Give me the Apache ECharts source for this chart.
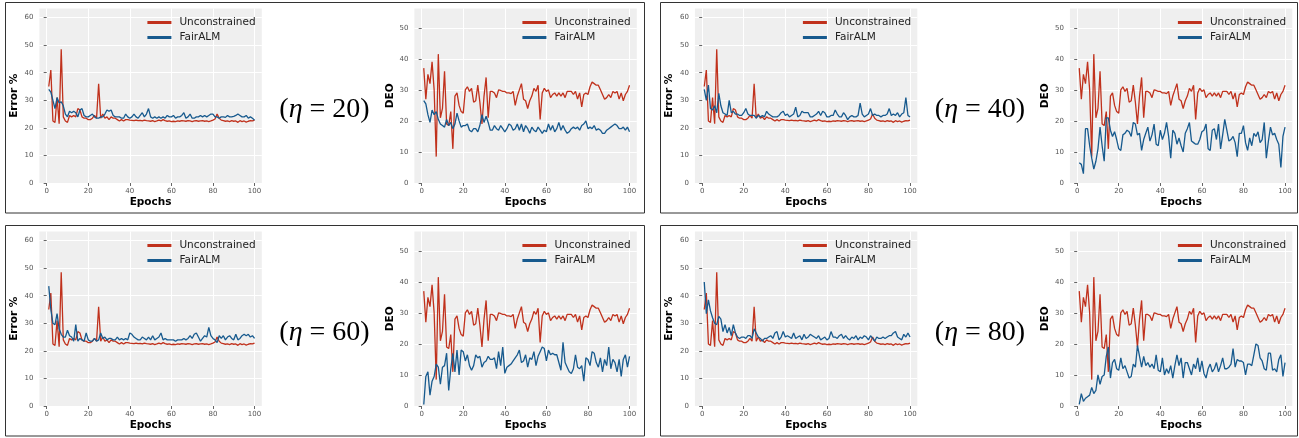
<!DOCTYPE html>
<html>
<head>
<meta charset="utf-8">
<script src="https://cdn.jsdelivr.net/npm/echarts@6/dist/echarts.min.js"></script>
<style>
html,body{margin:0;padding:0;background:#fff;}
#main{width:1299px;height:438px;}
</style>
</head>
<body>
<div id="main"></div>
<script>
// epochs 1..100
var epochs = [];
for (var i = 1; i <= 100; i++) epochs.push(i);

var epochTicks = [0, 20, 40, 60, 80, 100];
var errTicks = [0, 10, 20, 30, 40, 50, 60];
var deoTicks = [0, 10, 20, 30, 40, 50];
var etas = [20, 40, 60, 80];

// Unconstrained (same run in every panel)
var unErr = [35,41,22.5,22,31,21.5,48.5,24,22.5,22, 24.5,24,24.5,24,27,26.5,24,23.5,23.5,23,
  23,23.5,24.5,23.5,36,23.5,25,23.5,24,23, 24,23.5,23.5,23,22.5,23,22.5,23,23,22.8,
  22.7,22.6,22.8,22.6,22.7,22.5,22.8,22.6,22.5,22.4, 22.6,22.3,22.5,22.8,22.5,23,22.6,22.4,22.5,22.3,
  22.4,22.3,22.5,22.4,22.6,22.5,22.4,22.6,22.5,22.3, 22.5,22.6,22.4,22.5,22.6,22.4,22.5,22.3,22.5,22.8,
  23.2,25,23.5,22.8,22.6,22.4,22.5,22.3,22.6,22.4, 22.5,22,22.6,22.3,22.5,22.1,22.4,22.6,22.5,22.8];
var unDeo = [37,27,35,32,39,30,8.5,41.5,21,24, 36,19,18.5,23,11,28,29,25,23,22.5,
  30,31,29.5,30.5,26,26.5,31.5,26,19,28, 34,21,29.5,29.5,29,27.5,30,29.8,29.5,29.5,
  29,29,28.8,29.5,25,28,30,32,27,26.5, 24,26.5,28,30.5,29.5,31.5,20.5,29,30.5,29.5,
  30,27.5,28.5,29,28,29,28,29,27.5,29.5, 29.5,29.5,28.5,29.5,27,29,24.5,28.5,29,28.5,
  31,32.5,32,31.5,31.5,30,28.5,27,27.5,28.5, 27.5,29.5,29,29.5,27,29,26.5,28.5,29.5,31.5];

// FairALM, eta = 20
var fa20Err = [34,33,30,27,31,29,29.5,28,25,24, 26,25.5,26,25.5,24,26.5,27,24.5,24,24,
  24.5,25,24,23.5,23.5,24,24,25,26.5,26, 26.5,24.5,24,24,24,23.5,23.5,25,24,23.5,
  24,25,24,23.5,24.5,25.5,24,25,27,24, 23.5,24,23.5,24,23.5,24,23.5,24.5,24,24,
  24.5,23.5,24,24,24.5,25.5,23.5,24,25,23.5, 23.5,24,24,24.5,24,24.5,24,24.5,25,25,
  24,24,23.5,24,24,23.8,24.5,24,24,24.2, 24.5,25,24.5,24,24,24.5,23.5,24,23.5,22.8];
var fa20Deo = [26.5,25.5,22,19.5,23.5,22,23,20.5,19,18.5, 18,20.5,18.5,19.5,17.5,19,22.5,20,18,18.5,
  18.5,19,17,16.5,17.5,17.5,16.5,18.5,22,19.5, 21.5,19.5,17,17,18.5,17.5,17,18.5,17.5,16.5,
  17.5,19,18.5,17,17.5,19,17,19,16.5,18.5, 17.5,16,18,17,16.5,18,17,16,17,16.5,
  19,17,18.5,16.5,17.5,19.5,17,18.5,17,16, 16.5,17.5,18,17.5,18,17,18.5,19,20,17.5,
  18,17.5,18.5,17,17.5,17,16,16,17,17.5, 18,18.5,19,18.5,17.5,17.5,18,17,18,16.5];

// FairALM, eta = 40
var fa40Err = [34,30,35.5,27,26.5,28,25.5,32.5,28,25.5, 25,24.5,30,25.5,26,25,25,24.5,24.5,25.5,
  27,25,24.5,24.5,24.5,23.5,24.5,24,24.5,24, 26,25,24.5,24,24,24,24.5,25.5,26,24.5,
  25,24,24.5,25,27.5,24,24.5,26,25.5,25.5, 25.5,24,24,24.5,25,26,24.5,26,25.5,24,
  24,24.5,24.5,26.5,25,24,24,25.5,24.5,23, 24,24.5,24,24,24.5,29,25,24,24.5,25,
  27,24.5,25,24.5,24.5,24,24.5,24.5,25,27, 24.5,25,24.5,25.5,24,25,25.5,31,24.5,24];
var fa40Deo = [6.5,6,3,17.5,17.5,12,8,4.5,7,11, 18,12,7,21,21,17,15,16.5,14,11,
  10.5,15.5,16,17,16.5,15,19.5,19,15.5,16, 10.5,14,16,18,13.5,15.5,19,12.5,12,17,
  14,16,19.5,15,8,17,16,12.5,14.5,12, 10,16,17.5,19.5,13.5,13,12.5,12.5,14,16.5,
  17,19,11,10.5,17,17.5,14,19,11,15.5, 20.5,17,13.5,14,15,13,8.5,16,16,18.5,
  13,10.5,14.5,12,16,15,16.5,13,14,19.5, 8,13.5,18,15.5,16,14,12.5,5,15,18];

// FairALM, eta = 60
var fa60Err = [43.5,35,30,29.5,33.5,28,26,25,25,27.5, 25.5,25,23.5,29.5,23.5,24.5,24,23.5,26.5,24,
  23.5,23.5,24.5,23.5,24,26.5,24.5,25,24,24.5, 24.5,24,24,25,24,24.5,24,24.5,24,26.5,
  26,25,24.5,24,24,25,24.5,24,25,24, 25.5,24,24.5,25,26.5,24,24.5,24,24,24,
  24,23.5,24,24,24,24.5,24,24.5,25.5,24.5, 26,26.5,25,23.5,24.5,25.5,25,28.5,25.5,24.5,
  24,23,25.5,24.5,25.5,24,25,25.5,24.5,24, 26,24,24.5,25.5,26,25.5,26,25,25.5,24.5];
var fa60Deo = [0.5,9.5,11,3.5,8,9.5,13.5,12.5,7,12.5, 13,17,5,12,17,11,18,10,18,17.5,
  14.5,16.5,13,11.5,13,16.5,15.5,16,12.5,14, 14.5,16,15,15,15.5,12,17.5,13,19,10.5,
  12.5,13,13.5,14.5,15.5,16.5,18,14,14.5,16.5, 12.5,15.5,15,17.5,13,16,17.5,19,18.5,14.5,
  18,16.5,17,16.5,16.5,14,11.5,20.5,14,12.5, 11,10.5,12,16.5,12.5,12,13,8,15.5,15,
  13,17.5,17,14,12.5,15.5,11,15,13,19, 12,15,14,11,15,9.5,15,16.5,12.5,16];

// FairALM, eta = 80
var fa80Err = [45,33.5,38.5,34.5,32,30,29.5,32.5,31.5,27, 29.5,26.5,28.5,25.5,29.5,26.5,25,24.5,25,25,
  24.5,25.5,25.5,24.5,28,26.5,25,24.5,23.5,24.5, 24.5,25,25.5,24.5,26.5,27,24,25,27,25,
  25.5,25,24.5,26.5,24.5,25,25.5,24,26,24.5, 25,26,25.5,25,24.5,25.5,24,24.5,25,24,
  24.5,27,25,25,24.5,25.5,26,24.5,25.5,24.5, 24,25,24.5,25.5,24,25,24.5,25.5,25,24,
  25.5,24.5,23.5,25,24.5,24.5,25,24.5,25,25.5, 25.5,26.5,27,25,24.5,24,26,25,26.5,25];
var fa80Deo = [0.5,4,1.5,2.5,3,3.5,6,4,5,10, 7,9.5,10,16,19,9,14,15,12,11.5,
  15.5,12,13,11,9,9.5,13.5,12.5,19.5,16, 12.5,16,13,14,12.5,13.5,12,16.5,11.5,11,
  15.5,10,12,10.5,13,9,13,16.5,13,15.5, 9,14,14,12,10,13.5,12,15.5,11,14.5,
  10.5,9,12,13.5,11,12,14,11,13,15.5, 12,12,12.5,13.5,18.5,12.5,15,14.5,14.5,14,
  10,13.5,13.5,13,16.5,20,19.5,15.5,14.5,12, 11.5,17,17,11.5,12,11,15,16.5,9.5,14];

var faErr = [fa20Err, fa40Err, fa60Err, fa80Err];
var faDeo = [fa20Deo, fa40Deo, fa60Deo, fa80Deo];

var RED = '#c0311c', BLUE = '#175a8e';
var FONT = 'DejaVu Sans';

function pairs(arr) {
  return arr.map(function (v, i) { return [epochs[i], v]; });
}

var grids = [], xAxes = [], yAxes = [], series = [], legends = [], graphics = [];

function addChart(left, top, yName, yMax, yTicks, yGap, unData, faData) {
  var gi = grids.length;
  grids.push({left: left, top: top, width: 222.4, height: 174.5,
    show: true, backgroundColor: '#efefef', borderWidth: 0});
  xAxes.push({
    type: 'value', gridIndex: gi, min: -3.5, max: 103.5,
    name: 'Epochs', nameLocation: 'middle', nameGap: 14,
    nameTextStyle: {fontFamily: FONT, fontWeight: 'bold', fontSize: 10.5, color: '#000'},
    axisLine: {show: false},
    axisTick: {show: true, length: 3, customValues: epochTicks, lineStyle: {color: '#666'}},
    axisLabel: {customValues: epochTicks, fontFamily: FONT, fontSize: 7, color: '#555', margin: 5},
    splitLine: {show: true, lineStyle: {color: '#fff', width: 1}}
  });
  yAxes.push({
    type: 'value', gridIndex: gi, min: 0, max: yMax,
    name: yName, nameLocation: 'middle', nameGap: yGap,
    nameTextStyle: {fontFamily: FONT, fontWeight: 'bold', fontSize: 10.5, color: '#000'},
    axisLine: {show: false},
    axisTick: {show: true, length: 3, customValues: yTicks, lineStyle: {color: '#666'}},
    axisLabel: {customValues: yTicks, fontFamily: FONT, fontSize: 7, color: '#555', margin: 6},
    splitLine: {show: true, lineStyle: {color: '#fff', width: 1}}
  });
  series.push({name: 'Unconstrained', type: 'line', xAxisIndex: gi, yAxisIndex: gi,
    data: pairs(unData), showSymbol: false, color: RED, lineStyle: {color: RED, width: 1.3}});
  series.push({name: 'FairALM', type: 'line', xAxisIndex: gi, yAxisIndex: gi,
    data: pairs(faData), showSymbol: false, color: BLUE, lineStyle: {color: BLUE, width: 1.3}});
  legends.push({
    orient: 'vertical', left: left + 108, top: top + 8, padding: 0, itemGap: 3,
    itemWidth: 24, itemHeight: 3, icon: 'rect', selectedMode: false,
    textStyle: {fontFamily: FONT, fontSize: 10.5, color: '#222', lineHeight: 12, padding: [0, 0, 0, 3]},
    data: ['Unconstrained', 'FairALM']
  });
}

for (var p = 0; p < 4; p++) {
  var dx = (p % 2) * 655.5;
  var dy = Math.floor(p / 2) * 223;
  addChart(39.4 + dx, 8.5 + dy, 'Error %', 63.3, errTicks, 20, unErr, faErr[p]);
  addChart(414.4 + dx, 8.5 + dy, 'DEO', 56.2, deoTicks, 18, unDeo, faDeo[p]);
  graphics.push({
    type: 'rect', silent: true,
    shape: {x: (p % 2 ? 660.5 : 5.5), y: 2.5 + dy, width: (p % 2 ? 637 : 639), height: 210.5},
    style: {fill: 'none', stroke: '#333', lineWidth: 1}
  });
  graphics.push({
    type: 'text', silent: true, x: 324.5 + dx, y: 110 + dy,
    style: {
      text: '({i|\u03b7} = ' + etas[p] + ')',
      fontFamily: 'Liberation Serif', fontSize: 28, fill: '#000',
      align: 'center', verticalAlign: 'middle',
      rich: {i: {fontFamily: 'Liberation Serif', fontSize: 28, fontStyle: 'italic', fill: '#000'}}
    }
  });
}

var chart = echarts.init(document.getElementById('main'), null, {renderer: 'canvas'});
chart.setOption({
  animation: false,
  backgroundColor: '#fff',
  grid: grids,
  xAxis: xAxes,
  yAxis: yAxes,
  legend: legends,
  series: series,
  graphic: graphics
});
</script>
</body>
</html>
